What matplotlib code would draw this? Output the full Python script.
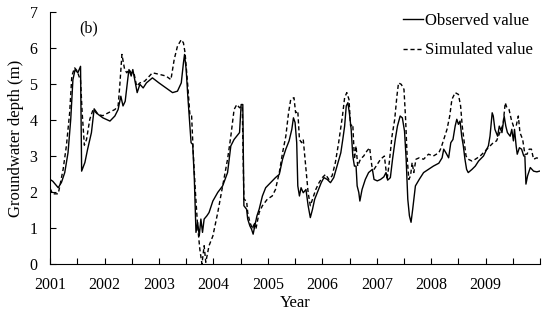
import matplotlib

matplotlib.use("Agg")
import matplotlib.pyplot as plt
from matplotlib.ticker import MultipleLocator

plt.rcParams["font.family"] = ["Liberation Serif", "DejaVu Serif"]

# observed groundwater depth (m)
obs_year = [
    2001.00, 2001.05, 2001.15, 2001.21, 2001.27, 2001.33, 2001.38, 2001.42, 2001.46, 2001.51,
    2001.56, 2001.58, 2001.64, 2001.69, 2001.73, 2001.76, 2001.81, 2001.88, 2001.97, 2002.10,
    2002.19, 2002.25, 2002.30, 2002.34, 2002.38, 2002.43, 2002.45, 2002.49, 2002.52, 2002.57,
    2002.60, 2002.65, 2002.71, 2002.77, 2002.88, 2003.00, 2003.13, 2003.25, 2003.34, 2003.41,
    2003.45, 2003.47, 2003.50, 2003.53, 2003.56, 2003.59, 2003.62, 2003.65, 2003.68, 2003.71,
    2003.74, 2003.77, 2003.80, 2003.83, 2003.88, 2003.92, 2003.99, 2004.08, 2004.17, 2004.26,
    2004.32, 2004.38, 2004.48, 2004.51, 2004.54, 2004.56, 2004.61, 2004.63, 2004.67, 2004.70,
    2004.73, 2004.76, 2004.80, 2004.84, 2004.90, 2004.96, 2005.05, 2005.14, 2005.21, 2005.27,
    2005.33, 2005.39, 2005.44, 2005.47, 2005.50, 2005.53, 2005.55, 2005.58, 2005.61, 2005.65,
    2005.70, 2005.74, 2005.78, 2005.82, 2005.86, 2005.92, 2005.98, 2006.03, 2006.09, 2006.15,
    2006.21, 2006.27, 2006.34, 2006.38, 2006.41, 2006.44, 2006.47, 2006.50, 2006.53, 2006.56,
    2006.59, 2006.62, 2006.64, 2006.67, 2006.69, 2006.73, 2006.79, 2006.85, 2006.92, 2006.95,
    2007.01, 2007.07, 2007.13, 2007.17, 2007.20, 2007.25, 2007.29, 2007.34, 2007.38, 2007.43,
    2007.47, 2007.51, 2007.54, 2007.57, 2007.60, 2007.63, 2007.66, 2007.71, 2007.78, 2007.86,
    2007.95, 2008.04, 2008.14, 2008.20, 2008.23, 2008.27, 2008.32, 2008.36, 2008.40, 2008.44,
    2008.47, 2008.50, 2008.53, 2008.56, 2008.59, 2008.62, 2008.65, 2008.68, 2008.75, 2008.81,
    2008.87, 2008.96, 2009.05, 2009.08, 2009.12, 2009.14, 2009.17, 2009.22, 2009.25, 2009.30,
    2009.34, 2009.37, 2009.40, 2009.45, 2009.48, 2009.51, 2009.53, 2009.56, 2009.58, 2009.62,
    2009.66, 2009.70, 2009.72, 2009.74, 2009.77, 2009.82, 2009.88, 2009.94, 2009.99,
]
obs_depth = [
    2.35, 2.30, 2.12, 2.27, 2.54, 3.09, 4.02, 5.12, 5.40, 5.31,
    5.49, 2.58, 2.82, 3.19, 3.46, 3.65, 4.31, 4.16, 4.06, 3.97,
    4.11, 4.29, 4.66, 4.39, 4.52, 5.17, 5.40, 5.22, 5.40, 4.99,
    4.76, 4.99, 4.89, 5.03, 5.17, 5.03, 4.89, 4.76, 4.80, 5.03,
    5.59, 5.82, 5.40, 4.66, 4.02, 3.37, 3.32, 2.35, 0.88, 1.16,
    0.78, 1.25, 0.88, 1.25, 1.34, 1.43, 1.75, 1.99, 2.17, 2.54,
    3.28, 3.46, 3.65, 4.43, 4.43, 1.62, 1.52, 1.25, 1.06, 0.97,
    0.83, 1.06, 1.34, 1.52, 1.89, 2.12, 2.26, 2.40, 2.49, 2.91,
    3.19, 3.42, 3.74, 4.06, 3.93, 3.37, 2.17, 1.89, 2.12, 1.98,
    2.07, 1.62, 1.29, 1.52, 1.80, 2.03, 2.26, 2.40, 2.35, 2.26,
    2.40, 2.72, 3.09, 3.50, 3.83, 4.39, 4.48, 4.16, 3.74, 3.00,
    2.72, 2.72, 2.17, 1.99, 1.75, 2.07, 2.35, 2.54, 2.63, 2.35,
    2.31, 2.35, 2.42, 2.54, 2.33, 2.40, 2.91, 3.46, 3.83, 4.11,
    4.06, 3.69, 2.91, 1.80, 1.34, 1.16, 1.52, 2.17, 2.35, 2.54,
    2.63, 2.72, 2.80, 2.95, 3.19, 3.09, 2.95, 3.37, 3.46, 3.83,
    4.02, 3.88, 3.97, 3.55, 3.28, 2.91, 2.63, 2.54, 2.63, 2.72,
    2.86, 3.00, 3.28, 3.55, 4.20, 4.11, 3.74, 3.55, 3.83, 3.65,
    4.11, 3.83, 3.65, 3.55, 3.74, 3.42, 3.74, 3.28, 3.05, 3.23,
    3.19, 3.00, 3.00, 2.22, 2.45, 2.68, 2.58, 2.56, 2.58,
]

# simulated groundwater depth (m)
sim_year = [
    2001.00, 2001.05, 2001.15, 2001.18, 2001.24, 2001.30, 2001.36, 2001.40, 2001.45, 2001.50,
    2001.53, 2001.56, 2001.59, 2001.63, 2001.67, 2001.73, 2001.79, 2001.88, 2001.97, 2002.07,
    2002.19, 2002.25, 2002.28, 2002.32, 2002.37, 2002.41, 2002.45, 2002.49, 2002.54, 2002.59,
    2002.65, 2002.74, 2002.88, 2003.00, 2003.13, 2003.22, 2003.28, 2003.34, 2003.41, 2003.45,
    2003.48, 2003.53, 2003.57, 2003.60, 2003.63, 2003.67, 2003.71, 2003.75, 2003.79, 2003.83,
    2003.86, 2003.92, 2003.99, 2004.08, 2004.17, 2004.26, 2004.32, 2004.38, 2004.43, 2004.48,
    2004.53, 2004.56, 2004.61, 2004.63, 2004.67, 2004.72, 2004.75, 2004.78, 2004.84, 2004.90,
    2004.99, 2005.08, 2005.14, 2005.21, 2005.27, 2005.33, 2005.38, 2005.42, 2005.48, 2005.51,
    2005.55, 2005.58, 2005.62, 2005.65, 2005.70, 2005.74, 2005.78, 2005.82, 2005.88, 2005.94,
    2006.00, 2006.06, 2006.12, 2006.18, 2006.24, 2006.30, 2006.37, 2006.41, 2006.45, 2006.49,
    2006.52, 2006.56, 2006.59, 2006.62, 2006.65, 2006.70, 2006.76, 2006.82, 2006.87, 2006.91,
    2006.95, 2007.01, 2007.07, 2007.14, 2007.19, 2007.23, 2007.28, 2007.33, 2007.37, 2007.40,
    2007.45, 2007.50, 2007.53, 2007.56, 2007.59, 2007.62, 2007.65, 2007.68, 2007.72, 2007.78,
    2007.86, 2007.95, 2008.04, 2008.14, 2008.18, 2008.23, 2008.29, 2008.34, 2008.38, 2008.44,
    2008.50, 2008.54, 2008.57, 2008.60, 2008.64, 2008.68, 2008.75, 2008.81, 2008.90, 2008.99,
    2009.08, 2009.14, 2009.20, 2009.27, 2009.32, 2009.36, 2009.39, 2009.43, 2009.47, 2009.51,
    2009.56, 2009.60, 2009.63, 2009.68, 2009.72, 2009.76, 2009.80, 2009.84, 2009.88, 2009.94,
    2009.99,
]
sim_depth = [
    2.10, 1.95, 1.95, 2.17, 2.63, 3.28, 4.20, 5.22, 5.45, 5.36,
    5.22, 5.10, 4.20, 3.30, 3.46, 4.02, 4.29, 4.15, 4.12, 4.20,
    4.29, 4.39, 4.94, 5.82, 5.40, 5.31, 5.40, 5.31, 5.31, 4.94,
    5.03, 5.08, 5.31, 5.27, 5.22, 5.12, 5.68, 6.05, 6.23, 6.14,
    5.86, 4.94, 4.11, 4.11, 3.09, 1.99, 1.06, 0.42, 0.00, 0.51,
    0.05, 0.51, 0.78, 1.43, 2.17, 2.91, 3.55, 4.29, 4.43, 4.34,
    4.39, 1.80, 1.75, 1.43, 1.16, 0.97, 1.16, 0.97, 1.43, 1.62,
    1.80, 1.89, 2.07, 2.54, 3.09, 3.55, 4.20, 4.57, 4.62, 4.20,
    4.25, 3.46, 3.37, 3.46, 2.63, 1.98, 1.62, 1.80, 2.07, 2.26,
    2.40, 2.49, 2.35, 2.45, 2.82, 3.37, 4.11, 4.62, 4.76, 4.57,
    3.83, 3.88, 2.91, 3.28, 2.72, 2.91, 3.00, 3.14, 3.23, 2.72,
    2.63, 2.77, 2.91, 3.00, 2.35, 2.82, 3.55, 4.02, 4.66, 5.03,
    4.99, 4.85, 4.02, 2.91, 2.35, 2.45, 2.82, 2.54, 2.91, 2.95,
    2.91, 3.05, 3.00, 3.09, 3.22, 3.46, 3.74, 4.11, 4.57, 4.76,
    4.71, 4.39, 3.83, 3.46, 3.00, 2.91, 2.86, 2.91, 3.00, 3.14,
    3.28, 3.37, 3.42, 3.69, 3.88, 4.48, 4.34, 4.29, 4.02, 3.83,
    3.83, 4.11, 3.65, 3.46, 3.05, 3.05, 3.19, 3.19, 2.91, 2.95,
    2.91,
]

years = list(range(2001, 2010))

fig = plt.figure(figsize=(5.5, 3.14), dpi=100)
ax = fig.add_axes([0.091, 0.159, 0.891, 0.803])

ax.plot(obs_year, obs_depth, color="black", lw=1.0, label="Observed value")
ax.plot(sim_year, sim_depth, color="black", lw=1.0, ls=(0, (3, 2)), label="Simulated value")

ax.set_xlim(2001, 2010)
ax.set_ylim(0, 7)
ax.set_xticks(years)
ax.set_xticklabels([str(y) for y in years])
ax.xaxis.set_minor_locator(MultipleLocator(0.5))
ax.yaxis.set_major_locator(MultipleLocator(1))
ax.tick_params(which="both", direction="in", labelsize=11.5, length=4, width=0.8)
ax.tick_params(axis="x", which="both", pad=9.5)
ax.tick_params(axis="y", which="both", pad=9)
ax.spines["top"].set_visible(False)
ax.spines["right"].set_visible(False)
for s in ("left", "bottom"):
    ax.spines[s].set_linewidth(0.8)

ax.set_xlabel("Year", fontsize=12, labelpad=1)
ax.set_ylabel("Groundwater depth (m)", fontsize=12, labelpad=4)
ax.text(2001.70, 6.54, "(b)", fontsize=11.5, ha="center", va="center")

ax.legend(loc="upper right", bbox_to_anchor=(1.016, 1.055), frameon=False, fontsize=12,
          handlelength=1.2, handletextpad=0.15, labelspacing=0.8)

fig.savefig("out.png", dpi=100)
